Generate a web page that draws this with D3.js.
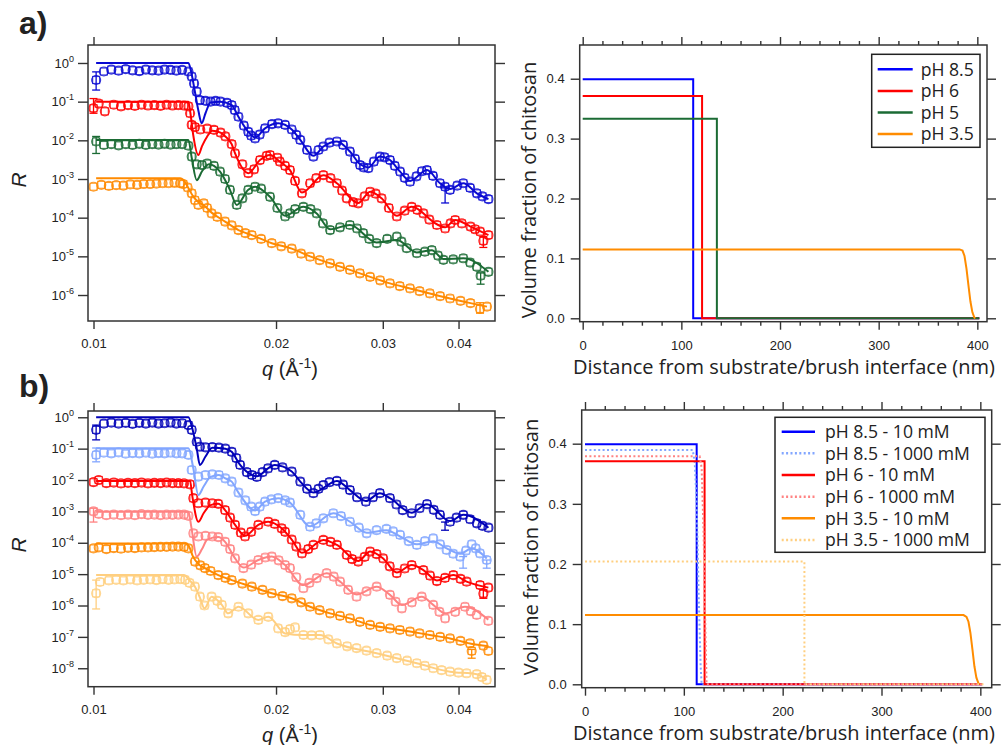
<!DOCTYPE html>
<html>
<head>
<meta charset="utf-8">
<script src="https://cdn.jsdelivr.net/npm/d3@7"></script>
<style>
  body { margin: 0; background: #fff; }
  text { font-family: "Liberation Sans", Arial, sans-serif; fill: #222; }
  .ttl { font-family: "Open Sans", "Noto Sans", sans-serif; }
</style>
</head>
<body>
<svg id="fig" width="1001" height="745"></svg>
<script>
// ---- tick values ----
var qTicks = [0.01, 0.02, 0.03, 0.04];
var decA = [0, -1, -2, -3, -4, -5, -6];
var decB = [0, -1, -2, -3, -4, -5, -6, -7, -8];
var zTicks = [0, 100, 200, 300, 400];
var zMinor = [20, 40, 60, 80, 120, 140, 160, 180, 220, 240, 260, 280, 320, 340, 360, 380];
var phiTicks = [0, 0.1, 0.2, 0.3, 0.4];

// ---- panel a, reflectivity: [q (1/A), log10 R] ----
var a85 = [[0.0101,-0.44],[0.0104,-0.22],[0.0107,-0.17],[0.011,-0.2],[0.0113,-0.16],[0.0116,-0.19],[0.0119,-0.21],[0.0122,-0.17],[0.0125,-0.19],[0.0128,-0.2],[0.0131,-0.17],[0.0134,-0.18],[0.0137,-0.2],[0.014,-0.18],[0.01434,-0.22],[0.01452,-0.35],[0.01465,-0.53],[0.0148,-0.74],[0.01498,-0.96],[0.0153,-0.98],[0.0156,-1.0],[0.0159,-0.98],[0.0162,-1.0],[0.0166,-1.03],[0.0169,-1.09],[0.0171,-1.22],[0.01734,-1.39],[0.0177,-1.62],[0.018,-1.78],[0.0182,-1.88],[0.01847,-1.95],[0.0188,-1.85],[0.01918,-1.69],[0.0197,-1.58],[0.02016,-1.56],[0.0207,-1.6],[0.02123,-1.72],[0.0216,-1.86],[0.02193,-1.99],[0.0225,-2.25],[0.02305,-2.42],[0.0235,-2.25],[0.02394,-2.16],[0.0245,-2.06],[0.0252,-2.03],[0.0258,-2.12],[0.02648,-2.29],[0.027,-2.48],[0.02752,-2.64],[0.0279,-2.7],[0.0284,-2.72],[0.029,-2.55],[0.02967,-2.42],[0.0302,-2.44],[0.03083,-2.51],[0.0314,-2.66],[0.03204,-2.81],[0.0326,-2.97],[0.03327,-3.07],[0.0341,-2.93],[0.0348,-2.8],[0.03548,-2.77],[0.0363,-2.92],[0.03728,-3.11],[0.038,-3.2],[0.03873,-3.28],[0.0398,-3.17],[0.04073,-3.11],[0.0418,-3.23],[0.04288,-3.37],[0.0438,-3.45],[0.04481,-3.52]];
var a85fit = [[0.0101,0],[0.01434,0],[0.0145,-0.25],[0.0147,-0.75],[0.0149,-1.25],[0.01508,-1.56],[0.0153,-1.3],[0.0156,-1.02],[0.0162,-1.0],[0.0169,-1.09],[0.01734,-1.39],[0.018,-1.78],[0.01847,-1.93],[0.01918,-1.69],[0.02016,-1.56],[0.02123,-1.72],[0.02193,-1.99],[0.02305,-2.4],[0.02394,-2.16],[0.0252,-2.03],[0.02648,-2.29],[0.02752,-2.62],[0.0284,-2.7],[0.02967,-2.42],[0.03083,-2.51],[0.03204,-2.81],[0.03327,-3.05],[0.03548,-2.77],[0.03728,-3.11],[0.03873,-3.26],[0.04073,-3.11],[0.04288,-3.37],[0.04481,-3.52]];
var a85err = [[0.0101,-0.23,-0.7],[0.03801,-3.23,-3.62]];

var a6 = [[0.01,-1.17],[0.0102,-1.05],[0.01044,-1.25],[0.0108,-1.08],[0.0111,-1.12],[0.0114,-1.09],[0.0117,-1.11],[0.012,-1.08],[0.0123,-1.1],[0.0126,-1.09],[0.0129,-1.11],[0.0132,-1.08],[0.0135,-1.1],[0.0138,-1.09],[0.0141,-1.1],[0.01434,-1.12],[0.01443,-1.3],[0.01452,-1.6],[0.0147,-1.66],[0.015,-1.72],[0.0154,-1.7],[0.0158,-1.73],[0.0162,-1.8],[0.0165,-1.9],[0.0169,-2.1],[0.01712,-2.34],[0.0176,-2.62],[0.018,-2.85],[0.0184,-2.75],[0.01882,-2.51],[0.0193,-2.4],[0.01955,-2.38],[0.0201,-2.45],[0.02029,-2.55],[0.0207,-2.66],[0.02109,-2.77],[0.0215,-3.05],[0.02207,-3.37],[0.02276,-3.11],[0.0233,-2.98],[0.02394,-2.9],[0.0246,-2.98],[0.0252,-3.11],[0.0257,-3.3],[0.02616,-3.5],[0.0268,-3.6],[0.02733,-3.63],[0.028,-3.45],[0.02859,-3.33],[0.0292,-3.38],[0.02986,-3.5],[0.0307,-3.75],[0.03164,-3.97],[0.0326,-3.82],[0.03348,-3.72],[0.0342,-3.8],[0.035,-3.89],[0.0358,-4.05],[0.03684,-4.19],[0.03801,-4.28],[0.0388,-4.15],[0.03949,-4.06],[0.0405,-4.15],[0.04186,-4.23],[0.0426,-4.3],[0.04342,-4.36],[0.04395,-4.6],[0.04481,-4.45]];
var a6fit = [[0.0101,-1.0],[0.01434,-1.0],[0.01445,-1.3],[0.0146,-1.85],[0.01489,-2.38],[0.0151,-2.15],[0.0154,-1.9],[0.0157,-1.75],[0.0162,-1.8],[0.0165,-1.9],[0.0169,-2.1],[0.01712,-2.34],[0.018,-2.85],[0.01882,-2.51],[0.01955,-2.38],[0.02029,-2.55],[0.02109,-2.77],[0.02207,-3.35],[0.02394,-2.9],[0.0252,-3.11],[0.02733,-3.62],[0.02859,-3.33],[0.02986,-3.5],[0.03164,-3.95],[0.03348,-3.72],[0.03684,-4.17],[0.03801,-4.25],[0.03949,-4.06],[0.04186,-4.23],[0.04481,-4.45]];
var a6err = [[0.01,-0.92,-1.3],[0.04395,-4.49,-4.77]];

var a5 = [[0.0101,-2.03],[0.0104,-2.12],[0.0107,-2.1],[0.011,-2.13],[0.0113,-2.1],[0.0116,-2.12],[0.0119,-2.09],[0.0122,-2.12],[0.0125,-2.1],[0.0128,-2.11],[0.0131,-2.09],[0.0134,-2.11],[0.0137,-2.1],[0.014,-2.1],[0.01434,-2.14],[0.01452,-2.42],[0.0148,-2.62],[0.0151,-2.64],[0.0154,-2.6],[0.0158,-2.66],[0.01617,-2.81],[0.01648,-3.0],[0.01679,-3.28],[0.01723,-3.67],[0.0176,-3.5],[0.018,-3.28],[0.01847,-3.2],[0.0189,-3.25],[0.01955,-3.46],[0.0201,-3.75],[0.0207,-3.97],[0.02109,-3.89],[0.0215,-3.78],[0.02219,-3.72],[0.0228,-3.78],[0.02334,-3.89],[0.0239,-4.15],[0.02456,-4.32],[0.0255,-4.25],[0.02648,-4.19],[0.0272,-4.28],[0.02785,-4.4],[0.0285,-4.55],[0.02931,-4.66],[0.0305,-4.55],[0.03164,-4.49],[0.0322,-4.62],[0.03285,-4.79],[0.03414,-4.92],[0.0352,-4.88],[0.03614,-4.84],[0.037,-4.98],[0.03777,-5.09],[0.0392,-5.08],[0.04073,-5.05],[0.0418,-5.16],[0.04288,-5.27],[0.0435,-5.5],[0.04481,-5.4]];
var a5fit = [[0.0101,-1.99],[0.01434,-1.99],[0.01452,-2.45],[0.0148,-3.03],[0.0151,-2.8],[0.0155,-2.62],[0.0158,-2.66],[0.01617,-2.81],[0.01679,-3.28],[0.01723,-3.67],[0.018,-3.28],[0.01847,-3.2],[0.01955,-3.46],[0.0207,-3.95],[0.02219,-3.72],[0.02334,-3.89],[0.02456,-4.3],[0.02648,-4.19],[0.02931,-4.64],[0.03164,-4.58],[0.03414,-4.9],[0.03614,-4.84],[0.03777,-5.07],[0.04073,-5.05],[0.04481,-5.4]];
var a5err = [[0.0101,-1.9,-2.34],[0.0435,-5.43,-5.72]];

var a35 = [[0.01,-3.2],[0.0103,-3.15],[0.0106,-3.18],[0.0109,-3.16],[0.0112,-3.17],[0.0115,-3.14],[0.0118,-3.15],[0.0121,-3.13],[0.0124,-3.13],[0.0127,-3.12],[0.013,-3.11],[0.0133,-3.11],[0.0136,-3.1],[0.01389,-3.11],[0.01406,-3.13],[0.0143,-3.22],[0.01452,-3.37],[0.0147,-3.55],[0.01489,-3.67],[0.0152,-3.63],[0.0154,-3.75],[0.01566,-3.89],[0.016,-3.98],[0.01648,-4.1],[0.0169,-4.2],[0.01734,-4.32],[0.0178,-4.4],[0.01824,-4.45],[0.0189,-4.55],[0.01968,-4.66],[0.0204,-4.74],[0.02123,-4.8],[0.022,-4.93],[0.02276,-5.01],[0.0236,-5.1],[0.02456,-5.18],[0.0255,-5.27],[0.02648,-5.35],[0.0275,-5.44],[0.02859,-5.53],[0.0297,-5.62],[0.03083,-5.7],[0.032,-5.77],[0.03327,-5.83],[0.0345,-5.9],[0.03587,-5.96],[0.0373,-6.03],[0.03873,-6.09],[0.0403,-6.15],[0.04186,-6.21],[0.0434,-6.36],[0.04456,-6.3]];
var a35fit = [[0.0101,-2.98],[0.0139,-2.98],[0.01406,-3.02],[0.0143,-3.2],[0.0146,-3.45],[0.0149,-3.6],[0.0152,-3.68],[0.01566,-3.87],[0.01648,-4.1],[0.01734,-4.32],[0.01824,-4.45],[0.01968,-4.66],[0.02123,-4.8],[0.02276,-5.0],[0.02456,-5.18],[0.02648,-5.35],[0.02859,-5.53],[0.03083,-5.7],[0.03327,-5.83],[0.03587,-5.96],[0.03873,-6.09],[0.04186,-6.21],[0.04456,-6.3]];
var a35err = [[0.0434,-6.2,-6.47]];

// ---- panel b, reflectivity ----
var b85 = [[0.0101,-0.4],[0.0104,-0.2],[0.0107,-0.17],[0.011,-0.2],[0.0113,-0.18],[0.0116,-0.21],[0.0119,-0.18],[0.0122,-0.2],[0.0125,-0.17],[0.0128,-0.2],[0.0131,-0.19],[0.0134,-0.17],[0.0137,-0.2],[0.014,-0.19],[0.01434,-0.25],[0.01452,-0.4],[0.0148,-0.78],[0.01498,-0.94],[0.0153,-0.96],[0.0157,-0.95],[0.0161,-0.97],[0.0165,-1.0],[0.0169,-1.1],[0.0172,-1.3],[0.01745,-1.52],[0.0179,-1.75],[0.01825,-1.84],[0.0186,-1.9],[0.019,-1.75],[0.0194,-1.63],[0.0199,-1.52],[0.0205,-1.6],[0.02123,-1.73],[0.02193,-2.05],[0.0225,-2.28],[0.02305,-2.42],[0.0235,-2.28],[0.02394,-2.16],[0.0245,-2.07],[0.0252,-2.03],[0.0258,-2.15],[0.02648,-2.32],[0.0272,-2.55],[0.02813,-2.69],[0.0289,-2.55],[0.02967,-2.42],[0.03083,-2.58],[0.0316,-2.78],[0.03235,-2.96],[0.03348,-3.06],[0.0345,-2.9],[0.03548,-2.77],[0.0364,-2.95],[0.03728,-3.11],[0.03873,-3.33],[0.0397,-3.2],[0.04073,-3.11],[0.0418,-3.25],[0.04288,-3.38],[0.0438,-3.46],[0.04481,-3.52]];
var b85fit = [[0.0101,0],[0.01434,0],[0.01455,-0.35],[0.0148,-1.0],[0.01498,-1.52],[0.0153,-1.25],[0.0157,-0.97],[0.0165,-1.0],[0.0169,-1.1],[0.01745,-1.52],[0.01825,-1.84],[0.0186,-1.88],[0.0194,-1.63],[0.0199,-1.52],[0.02123,-1.73],[0.02193,-2.05],[0.02305,-2.4],[0.0252,-2.03],[0.02648,-2.32],[0.02813,-2.67],[0.02967,-2.42],[0.03083,-2.58],[0.03348,-3.04],[0.03548,-2.77],[0.03873,-3.31],[0.04073,-3.11],[0.04481,-3.52]];
var b85err = [[0.0101,-0.25,-0.72],[0.038,-3.34,-3.6]];

var b85s = [[0.0101,-1.2],[0.0104,-1.13],[0.0107,-1.15],[0.011,-1.12],[0.0113,-1.16],[0.0116,-1.14],[0.0119,-1.15],[0.0122,-1.13],[0.0125,-1.16],[0.0128,-1.14],[0.0131,-1.15],[0.0134,-1.13],[0.0137,-1.15],[0.014,-1.15],[0.01434,-1.2],[0.01452,-1.68],[0.01489,-1.89],[0.0153,-1.84],[0.0157,-1.82],[0.0161,-1.84],[0.0165,-1.95],[0.0169,-2.05],[0.01734,-2.4],[0.0178,-2.65],[0.0182,-2.85],[0.01847,-2.99],[0.0188,-2.85],[0.01918,-2.69],[0.01965,-2.62],[0.02016,-2.58],[0.0207,-2.65],[0.02109,-2.72],[0.02193,-3.11],[0.02276,-3.49],[0.0233,-3.38],[0.02394,-3.22],[0.02486,-3.06],[0.0256,-3.15],[0.02648,-3.33],[0.0274,-3.52],[0.02822,-3.7],[0.0293,-3.6],[0.03042,-3.56],[0.0312,-3.64],[0.03204,-3.75],[0.0331,-3.95],[0.03414,-4.07],[0.0352,-3.95],[0.03633,-3.86],[0.0373,-4.05],[0.03823,-4.23],[0.0392,-4.35],[0.04024,-4.44],[0.04115,-4.25],[0.04205,-4.05],[0.0427,-4.18],[0.0434,-4.34],[0.04452,-4.55]];
var b85sfit = [[0.0101,-0.99],[0.01434,-0.99],[0.0146,-1.6],[0.01489,-2.48],[0.0152,-2.2],[0.0156,-1.9],[0.0161,-1.84],[0.0165,-1.95],[0.0169,-2.05],[0.01734,-2.4],[0.01847,-2.97],[0.01918,-2.69],[0.02016,-2.58],[0.02109,-2.72],[0.02276,-3.47],[0.02486,-3.06],[0.02648,-3.33],[0.02822,-3.68],[0.03042,-3.6],[0.03204,-3.8],[0.03414,-4.05],[0.03633,-3.95],[0.03823,-4.18],[0.04024,-4.35],[0.04205,-4.18],[0.04452,-4.5]];
var b85serr = [[0.0101,-0.98,-1.42],[0.0407,-4.44,-4.81],[0.04452,-4.55,-4.81]];

var b6 = [[0.01,-2.07],[0.0102,-2.0],[0.0105,-2.1],[0.0108,-2.08],[0.0111,-2.11],[0.0114,-2.09],[0.0117,-2.1],[0.012,-2.08],[0.0123,-2.11],[0.0126,-2.09],[0.0129,-2.1],[0.0132,-2.08],[0.0135,-2.1],[0.0138,-2.1],[0.0141,-2.11],[0.01443,-2.14],[0.01461,-2.58],[0.01489,-2.74],[0.0153,-2.72],[0.0157,-2.74],[0.01606,-2.76],[0.01648,-2.96],[0.0168,-3.2],[0.01712,-3.43],[0.0175,-3.68],[0.01778,-3.8],[0.0182,-3.65],[0.0187,-3.43],[0.01942,-3.33],[0.0199,-3.4],[0.02043,-3.54],[0.0207,-3.65],[0.02123,-3.9],[0.0216,-4.12],[0.02207,-4.34],[0.0226,-4.2],[0.02305,-4.07],[0.02394,-3.91],[0.0246,-3.97],[0.0252,-4.07],[0.02616,-4.39],[0.0267,-4.52],[0.02733,-4.6],[0.028,-4.45],[0.02859,-4.28],[0.0293,-4.36],[0.03004,-4.5],[0.0308,-4.75],[0.03164,-4.97],[0.0326,-4.82],[0.03348,-4.71],[0.035,-4.87],[0.0359,-5.05],[0.03684,-5.22],[0.038,-5.12],[0.03922,-5.03],[0.0403,-5.15],[0.04125,-5.24],[0.0434,-5.35],[0.04395,-5.62],[0.04479,-5.43]];
var b6fit = [[0.0101,-2.03],[0.01443,-2.03],[0.01455,-2.5],[0.01489,-3.33],[0.0152,-3.05],[0.0156,-2.8],[0.01606,-2.76],[0.01648,-2.96],[0.01712,-3.43],[0.01778,-3.78],[0.0187,-3.43],[0.01942,-3.33],[0.02043,-3.54],[0.02123,-3.9],[0.02207,-4.32],[0.02394,-3.91],[0.0252,-4.07],[0.02733,-4.58],[0.02859,-4.28],[0.03004,-4.5],[0.03164,-4.95],[0.03348,-4.71],[0.035,-4.87],[0.03684,-5.2],[0.03922,-5.03],[0.04125,-5.24],[0.04479,-5.43]];
var b6err = [[0.04395,-5.5,-5.77]];

var b6s = [[0.01,-3.0],[0.0102,-3.08],[0.0105,-3.12],[0.0108,-3.1],[0.0111,-3.12],[0.0114,-3.1],[0.0117,-3.12],[0.012,-3.09],[0.0123,-3.11],[0.0126,-3.1],[0.0129,-3.12],[0.0132,-3.1],[0.0135,-3.11],[0.0138,-3.1],[0.0141,-3.1],[0.01434,-3.14],[0.01461,-3.7],[0.01489,-3.8],[0.0153,-3.78],[0.0157,-3.8],[0.01606,-3.82],[0.01648,-3.97],[0.0168,-4.2],[0.01712,-4.5],[0.01767,-4.81],[0.0182,-4.7],[0.0187,-4.55],[0.0192,-4.47],[0.01968,-4.44],[0.0202,-4.56],[0.0207,-4.71],[0.02109,-4.81],[0.0216,-5.1],[0.02219,-5.45],[0.0227,-5.28],[0.02334,-5.13],[0.02424,-4.97],[0.0249,-5.08],[0.02551,-5.24],[0.0263,-5.5],[0.02716,-5.72],[0.0282,-5.55],[0.02931,-5.4],[0.03083,-5.66],[0.0315,-5.88],[0.03225,-6.09],[0.0335,-5.9],[0.03478,-5.72],[0.03633,-5.98],[0.0372,-6.2],[0.03801,-6.41],[0.0395,-6.2],[0.04099,-6.04],[0.0419,-6.18],[0.04286,-6.3],[0.04479,-6.49]];
var b6sfit = [[0.0101,-3.01],[0.01434,-3.01],[0.0145,-3.5],[0.0148,-4.44],[0.0151,-4.2],[0.0154,-3.9],[0.01606,-3.82],[0.01648,-3.97],[0.01712,-4.5],[0.01767,-4.79],[0.0187,-4.55],[0.01968,-4.44],[0.0207,-4.71],[0.02219,-5.35],[0.02424,-4.97],[0.02551,-5.24],[0.02716,-5.65],[0.02931,-5.4],[0.03083,-5.66],[0.03225,-5.98],[0.03478,-5.72],[0.03633,-5.98],[0.03801,-6.25],[0.04099,-6.04],[0.04479,-6.45]];
var b6serr = [[0.01,-2.9,-3.34]];

var b35 = [[0.01,-4.18],[0.0102,-4.15],[0.0105,-4.2],[0.0108,-4.17],[0.0111,-4.19],[0.0114,-4.16],[0.0117,-4.17],[0.012,-4.15],[0.0123,-4.15],[0.0126,-4.14],[0.0129,-4.13],[0.0132,-4.13],[0.0135,-4.12],[0.0138,-4.12],[0.0141,-4.13],[0.01434,-4.18],[0.0147,-4.6],[0.015,-4.72],[0.01527,-4.81],[0.0156,-4.9],[0.01606,-5.03],[0.0165,-5.12],[0.0169,-5.19],[0.0176,-5.3],[0.01824,-5.4],[0.019,-5.5],[0.01968,-5.61],[0.0205,-5.7],[0.02123,-5.77],[0.022,-5.9],[0.02276,-6.04],[0.0236,-6.15],[0.02456,-6.25],[0.0255,-6.33],[0.02648,-6.41],[0.0275,-6.52],[0.02859,-6.62],[0.0297,-6.68],[0.03083,-6.73],[0.032,-6.78],[0.03327,-6.83],[0.0345,-6.89],[0.03587,-6.94],[0.0373,-7.0],[0.03873,-7.05],[0.0403,-7.13],[0.04178,-7.21],[0.04205,-7.45],[0.04395,-7.28],[0.04479,-7.45]];
var b35fit = [[0.0101,-4.02],[0.0142,-4.02],[0.01434,-4.08],[0.0146,-4.45],[0.0149,-4.68],[0.01527,-4.81],[0.01606,-5.03],[0.0169,-5.19],[0.01824,-5.4],[0.01968,-5.61],[0.02123,-5.77],[0.02276,-6.04],[0.02456,-6.25],[0.02648,-6.41],[0.02859,-6.62],[0.03083,-6.73],[0.03327,-6.83],[0.03587,-6.94],[0.03873,-7.05],[0.04178,-7.21],[0.04479,-7.3]];
var b35err = [[0.04205,-7.4,-7.68]];

var b35s = [[0.0101,-5.61],[0.01025,-5.25],[0.0106,-5.2],[0.0109,-5.18],[0.0112,-5.2],[0.0115,-5.17],[0.0118,-5.2],[0.0121,-5.18],[0.0124,-5.17],[0.0127,-5.19],[0.013,-5.16],[0.0133,-5.18],[0.0136,-5.17],[0.0139,-5.16],[0.01416,-5.18],[0.0144,-5.28],[0.0147,-5.4],[0.01498,-5.72],[0.01524,-6.0],[0.01566,-5.72],[0.016,-5.85],[0.01628,-5.98],[0.01668,-6.25],[0.01734,-6.04],[0.018,-6.25],[0.0187,-6.46],[0.01942,-6.36],[0.02016,-6.73],[0.0207,-6.85],[0.02109,-6.75],[0.0215,-6.7],[0.02219,-6.94],[0.0229,-6.95],[0.02363,-6.94],[0.0244,-7.08],[0.0252,-7.21],[0.0262,-7.3],[0.02716,-7.36],[0.0282,-7.44],[0.02931,-7.52],[0.0305,-7.6],[0.03164,-7.68],[0.0329,-7.76],[0.03414,-7.84],[0.0352,-7.92],[0.03633,-8.0],[0.0375,-8.06],[0.03873,-8.11],[0.04,-8.14],[0.04125,-8.16],[0.04286,-8.19],[0.0437,-8.28],[0.04452,-8.37]];
var b35sfit = [[0.0101,-5.03],[0.0141,-5.03],[0.0144,-5.2],[0.0147,-5.4],[0.01498,-5.75],[0.01524,-6.09],[0.01566,-5.72],[0.01628,-5.98],[0.01668,-6.25],[0.01734,-6.04],[0.0187,-6.46],[0.01942,-6.36],[0.0207,-6.89],[0.02219,-6.94],[0.02363,-6.94],[0.0252,-7.21],[0.02931,-7.52],[0.03414,-7.84],[0.03873,-8.11],[0.04286,-8.19],[0.04452,-8.37]];
var b35serr = [[0.0101,-5.19,-6.11]];

// ---- volume fraction profiles: [distance nm, fraction] ----
var pA85 = [[0,0.399],[112,0.399],[112,0],[402,0]];
var pA6 = [[0,0.371],[121,0.371],[121,0],[402,0]];
var pA5 = [[0,0.333],[136,0.333],[136,0],[402,0]];
var pA35 = [[0,0.115],[382,0.115],[385,0.113],[387,0.104],[389,0.083],[391,0.055],[393,0.028],[395,0.01],[397,0.001],[398,0]];

var pB85 = [[0,0.399],[113,0.399],[113,0],[402,0]];
var pB85s = [[0,0.3895],[109,0.3895],[111,0.37],[113,0.3],[115,0.15],[117,0.03],[118,0],[402,0]];
var pB6 = [[0,0.371],[121,0.371],[121,0],[402,0]];
var pB6s = [[0,0.379],[116,0.379],[118,0.36],[120,0.25],[122,0.08],[123,0],[402,0]];
var pB35 = [[0,0.115],[383,0.115],[386,0.112],[388,0.104],[390,0.085],[392,0.058],[394,0.03],[396,0.011],[398,0.002],[399,0]];
var pB35s = [[0,0.204],[222,0.204],[222,0],[404,0]];

var legendA = ["pH 8.5", "pH 6", "pH 5", "pH 3.5"];
var legendB = ["pH 8.5 - 10 mM", "pH 8.5 - 1000 mM", "pH 6 - 10 mM", "pH 6 - 1000 mM", "pH 3.5 - 10 mM", "pH 3.5 - 1000 mM"];

var svg = d3.select("#fig");

function styleAxis(g, size) {
  g.select(".domain").remove();
  g.selectAll(".tick line").attr("stroke", "#333").attr("stroke-width", 1.4);
  g.selectAll("text").attr("font-size", size).attr("fill", "#222")
    .attr("font-family", "Liberation Sans, Arial, sans-serif");
}

function reflPanel(p) {
  var x = d3.scaleLog().domain(p.qDom).range([p.x0, p.x1]);
  var y = d3.scaleLog().domain(p.rDom).range([p.y1, p.y0]);
  var g = svg.append("g");
  var line = d3.line().x(d => x(d[0])).y(d => y(Math.pow(10, d[1]))).curve(d3.curveMonotoneX);

  p.series.forEach(function(s) {
    var m = g.append("g").attr("fill", "none").attr("stroke", s.color)
      .attr("stroke-width", 1.2).attr("stroke-opacity", 0.8);
    m.selectAll("circle").data(s.data).enter().append("circle")
      .attr("cx", d => x(d[0])).attr("cy", d => y(Math.pow(10, d[1]))).attr("r", 4.5);
    m.selectAll("rect").data(s.data).enter().append("rect")
      .attr("x", d => x(d[0]) - 3.5).attr("y", d => y(Math.pow(10, d[1])) - 3.5)
      .attr("width", 7).attr("height", 7);
    var e = g.append("g").attr("stroke", s.color).attr("stroke-width", 1.3);
    s.err.forEach(function(d) {
      var cx = x(d[0]), ya = y(Math.pow(10, d[1])), yb = y(Math.pow(10, d[2]));
      e.append("line").attr("x1", cx).attr("x2", cx).attr("y1", ya).attr("y2", yb);
      e.append("line").attr("x1", cx - 4).attr("x2", cx + 4).attr("y1", ya).attr("y2", ya);
      e.append("line").attr("x1", cx - 4).attr("x2", cx + 4).attr("y1", yb).attr("y2", yb);
    });
  });
  p.series.forEach(function(s) {
    g.append("path").attr("d", line(s.fit)).attr("fill", "none")
      .attr("stroke", s.color).attr("stroke-width", 2);
  });

  var decs = p.decs.map(d => Math.pow(10, d));
  var ax = g.append("g").attr("transform", `translate(0,${p.y1})`)
    .call(d3.axisBottom(x).tickValues(qTicks).tickSize(8).tickPadding(10).tickFormat(d3.format(".2f")));
  styleAxis(ax, 13);
  ax = g.append("g").attr("transform", `translate(0,${p.y0})`)
    .call(d3.axisTop(x).tickValues(qTicks).tickSize(8).tickFormat(""));
  styleAxis(ax, 13);
  ax = g.append("g").attr("transform", `translate(${p.x0},0)`)
    .call(d3.axisLeft(y).tickValues(decs).tickSize(10).tickPadding(4));
  styleAxis(ax, 13);
  ax.selectAll(".tick text").each(function(d) {
    var t = d3.select(this).text(null);
    t.append("tspan").text("10");
    t.append("tspan").attr("dy", -6).attr("font-size", 9).text(Math.round(Math.log10(d)));
  });
  ax = g.append("g").attr("transform", `translate(${p.x1},0)`)
    .call(d3.axisRight(y).tickValues(decs).tickSize(10).tickFormat(""));
  styleAxis(ax, 13);

  g.append("rect").attr("x", p.x0).attr("y", p.y0).attr("width", p.x1 - p.x0).attr("height", p.y1 - p.y0)
    .attr("fill", "none").attr("stroke", "#333").attr("stroke-width", 1.5);

  var xl = g.append("text").attr("x", 290).attr("y", p.y1 + 55).attr("text-anchor", "middle")
    .attr("font-size", 20);
  xl.append("tspan").attr("font-style", "italic").text("q");
  xl.append("tspan").text(" (Å");
  xl.append("tspan").attr("dy", -8).attr("font-size", 14).text("-1");
  xl.append("tspan").attr("dy", 8).text(")");

  g.append("text").attr("transform", `translate(26,${p.ymid}) rotate(-90)`)
    .attr("text-anchor", "middle").attr("font-size", 21).attr("font-style", "italic").text("R");

  g.append("text").attr("x", 19).attr("y", p.letterY).attr("font-size", 32).attr("font-weight", "bold")
    .text(p.letter);
}

function profPanel(p) {
  var x = d3.scaleLinear().domain(p.zDom).range([p.x0, p.x1]);
  var y = d3.scaleLinear().domain(p.fDom).range([p.y1, p.y0]);
  var g = svg.append("g");
  var line = d3.line().x(d => x(d[0])).y(d => y(d[1]));

  p.series.forEach(function(s) {
    g.append("path").attr("d", line(s.data)).attr("fill", "none")
      .attr("stroke", s.color).attr("stroke-width", 2)
      .attr("stroke-dasharray", s.dotted ? "2,2.4" : null);
  });

  var ax = g.append("g").attr("transform", `translate(0,${p.y1})`)
    .call(d3.axisBottom(x).tickValues(zTicks).tickSize(8).tickPadding(11));
  styleAxis(ax, 13);
  ax = g.append("g").attr("transform", `translate(0,${p.y1})`)
    .call(d3.axisBottom(x).tickValues(zMinor).tickSize(4).tickFormat(""));
  styleAxis(ax, 13);
  ax = g.append("g").attr("transform", `translate(0,${p.y0})`)
    .call(d3.axisTop(x).tickValues(zTicks).tickSize(8).tickFormat(""));
  styleAxis(ax, 13);
  ax = g.append("g").attr("transform", `translate(0,${p.y0})`)
    .call(d3.axisTop(x).tickValues(zMinor).tickSize(4).tickFormat(""));
  styleAxis(ax, 13);
  ax = g.append("g").attr("transform", `translate(${p.x0},0)`)
    .call(d3.axisLeft(y).tickValues(phiTicks).tickSize(9).tickPadding(6).tickFormat(d3.format(".1f")));
  styleAxis(ax, 13);
  ax = g.append("g").attr("transform", `translate(${p.x1},0)`)
    .call(d3.axisRight(y).tickValues(phiTicks).tickSize(9).tickFormat(""));
  styleAxis(ax, 13);

  g.append("rect").attr("x", p.x0).attr("y", p.y0).attr("width", p.x1 - p.x0).attr("height", p.y1 - p.y0)
    .attr("fill", "none").attr("stroke", "#333").attr("stroke-width", 1.5);

  g.append("text").attr("class", "ttl").attr("x", 784).attr("y", p.y1 + 52)
    .attr("text-anchor", "middle").attr("font-size", 20).text("Distance from substrate/brush interface (nm)");
  g.append("text").attr("class", "ttl").attr("transform", `translate(${p.ylx},${p.ylmid}) rotate(-90)`)
    .attr("text-anchor", "middle").attr("font-size", 20).text("Volume fraction of chitosan");

  var L = p.legend;
  var lg = g.append("g");
  lg.append("rect").attr("x", L.x).attr("y", L.y).attr("width", L.w).attr("height", L.h)
    .attr("fill", "#fff").attr("stroke", "#222").attr("stroke-width", 1.5);
  p.series.forEach(function(s, i) {
    var cy = L.y + L.first + i * L.step;
    lg.append("line").attr("x1", L.x + L.l0).attr("x2", L.x + L.l1).attr("y1", cy).attr("y2", cy)
      .attr("stroke", s.color).attr("stroke-width", 2.5).attr("stroke-dasharray", s.dotted ? "2,2.4" : null);
    lg.append("text").attr("class", "ttl").attr("x", L.x + L.tx).attr("y", cy + 6.3)
      .attr("font-size", 17.6).text(L.labels[i]);
  });
}

var BLUE = "#0a0ad2", BLUE2 = "#0000b8", RED = "#ff0000", GREEN = "#1b6b34", ORANGE = "#ff8a00",
    LBLUE = "#82a6ff", PINK = "#ff8282", LORANGE = "#ffcf80";

reflPanel({
  x0: 88, x1: 495, y0: 45, y1: 321, qDom: [0.009793, 0.04594], rDom: [Math.pow(10, -6.672), Math.pow(10, 0.465)],
  decs: decA, ymid: 180, letter: "a)", letterY: 34,
  series: [
    {color: BLUE, data: a85, fit: a85fit, err: a85err},
    {color: RED, data: a6, fit: a6fit, err: a6err},
    {color: GREEN, data: a5, fit: a5fit, err: a5err},
    {color: ORANGE, data: a35, fit: a35fit, err: a35err}
  ]
});

reflPanel({
  x0: 88, x1: 495, y0: 411, y1: 686.7, qDom: [0.009793, 0.04594], rDom: [Math.pow(10, -8.588), Math.pow(10, 0.2)],
  decs: decB, ymid: 545, letter: "b)", letterY: 397,
  series: [
    {color: BLUE2, data: b85, fit: b85fit, err: b85err},
    {color: LBLUE, data: b85s, fit: b85sfit, err: b85serr},
    {color: RED, data: b6, fit: b6fit, err: b6err},
    {color: PINK, data: b6s, fit: b6sfit, err: b6serr},
    {color: ORANGE, data: b35, fit: b35fit, err: b35err},
    {color: LORANGE, data: b35s, fit: b35sfit, err: b35serr}
  ]
});

profPanel({
  x0: 579.7, x1: 987, y0: 45, y1: 321.7, zDom: [-3.04, 409.8], fDom: [-0.00568, 0.4563],
  ylx: 536, ylmid: 190,
  legend: {x: 871.7, y: 54.3, w: 108.3, h: 93, first: 15, step: 21.6, l0: 6, l1: 41, tx: 49, labels: legendA},
  series: [
    {color: "#ff8c00", data: pA35},
    {color: GREEN, data: pA5},
    {color: RED, data: pA6},
    {color: "#0000ff", data: pA85}
  ].reverse()
});

profPanel({
  x0: 581.7, x1: 991.7, y0: 410, y1: 687.7, zDom: [-3.34, 411.5], fDom: [-0.00565, 0.456],
  ylx: 538, ylmid: 547,
  legend: {x: 775, y: 417.3, w: 210, h: 135, first: 14.4, step: 21.66, l0: 6.7, l1: 40, tx: 50, labels: legendB},
  series: [
    {color: "#0000ff", data: pB85},
    {color: LBLUE, data: pB85s, dotted: true},
    {color: RED, data: pB6},
    {color: PINK, data: pB6s, dotted: true},
    {color: "#ff8c00", data: pB35},
    {color: LORANGE, data: pB35s, dotted: true}
  ]
});
</script>
</body>
</html>
